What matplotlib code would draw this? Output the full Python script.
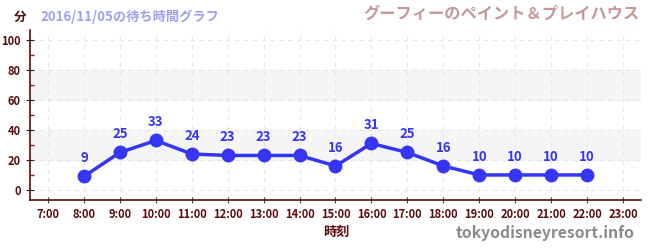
import matplotlib
matplotlib.use('Agg')
import matplotlib.pyplot as plt

plt.rcParams['font.family'] = ['Noto Sans CJK JP', 'DejaVu Sans']

# データ
hours = [8, 9, 10, 11, 12, 13, 14, 15, 16, 17, 18, 19, 20, 21, 22]
waits = [9, 25, 33, 24, 23, 23, 23, 16, 31, 25, 16, 10, 10, 10, 10]
tick_hours = list(range(7, 24))
tick_labels = [f'{h}:00' for h in tick_hours]
y_ticks = [0, 20, 40, 60, 80, 100]

dark = '#5a0a0a'
blue = '#3535f5'

fig = plt.figure(figsize=(6.5, 2.5), dpi=100)
ax = fig.add_axes([30/650, 0.2, 611/650, 0.68])

ax.set_xlim(6.5, 23.5)
ax.set_ylim(-6.7, 106.7)

# 背景の帯
for lo, hi in [(20, 40), (60, 80)]:
    ax.axhspan(lo, hi, color='#f5f5f5', zorder=0)

ax.set_xticks(tick_hours)
ax.set_xticklabels(tick_labels)
ax.set_yticks(y_ticks)
ax.set_yticks([10, 30, 50, 70, 90], minor=True)
ax.grid(True, which='major', linestyle=(0, (4, 4)), color='#e6e6e6', linewidth=0.8)

ax.tick_params(axis='both', which='major', labelsize=8, colors='#222222', labelcolor=dark, length=4)
ax.tick_params(axis='y', which='minor', colors='#cc0000', length=3, direction='in', width=1)
ax.tick_params(axis='x', which='major', direction='inout', length=5, colors='#444444')
ax.tick_params(axis='y', which='major', direction='inout', length=6, colors='#222222')
for lab in ax.get_xticklabels() + ax.get_yticklabels():
    lab.set_fontweight('bold')
    lab.set_color(dark)

for s in ['top', 'right']:
    ax.spines[s].set_visible(False)
for s in ['left', 'bottom']:
    ax.spines[s].set_color(dark)
    ax.spines[s].set_linewidth(1.2)

ax.plot(hours, waits, color=blue, linewidth=2.5, marker='o', markersize=9, zorder=3)
for h, w in zip(hours, waits):
    ax.annotate(str(w), (h, w), xytext=(0, 8), textcoords='offset points',
                ha='center', va='bottom', color=blue, fontsize=9.5, fontweight='bold')

fig.text(20/650, 1-17/250, '分', color=dark, fontsize=9, fontweight='bold', ha='center', va='center')
fig.text(40/650, 1-17/250, '2016/11/05の待ち時間グラフ', color='#9f9ff0', fontsize=9.5,
         fontweight='bold', ha='left', va='center')
fig.text(640/650, 1-14/250, 'グーフィーのペイント＆プレイハウス', color='#c89898', fontsize=11.7,
         fontweight='bold', ha='right', va='center')
fig.text(336/650, 1-232/250, '時刻', color=dark, fontsize=9.5, fontweight='bold', ha='center', va='center')
fig.text(634/650, 1-233/250, 'tokyodisneyresort.info', color='#8a8a8a', fontsize=11.3,
         fontweight='bold', ha='right', va='center')

fig.savefig('out.png', dpi=100)
